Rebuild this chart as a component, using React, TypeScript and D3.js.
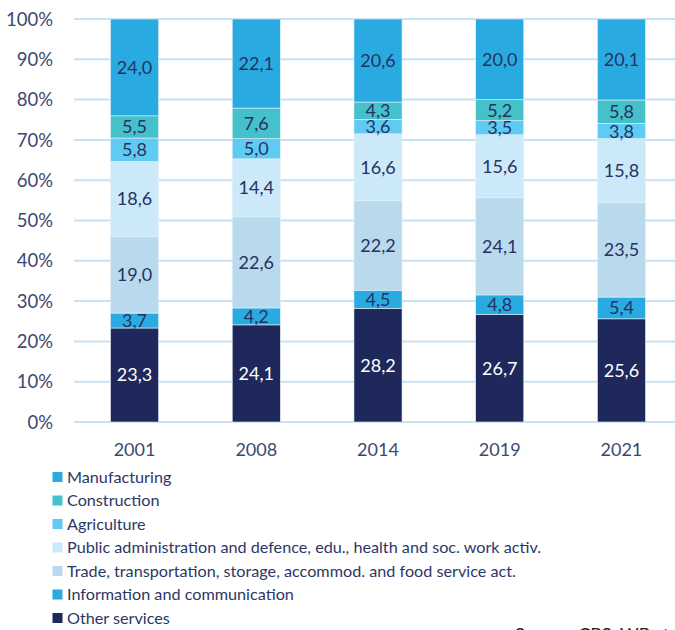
import { useMemo } from 'react'
import * as d3 from 'd3'

const years = ['2001', '2008', '2014', '2019', '2021']

// stacked bottom -> top
const sectors = [
  'Other services',
  'Information and communication',
  'Trade, transportation, storage, accommod. and food service act.',
  'Public administration and defence, edu., health and soc. work activ.',
  'Agriculture',
  'Construction',
  'Manufacturing',
]

const otherServices = [23.3, 24.1, 28.2, 26.7, 25.6]
const infoComm = [3.7, 4.2, 4.5, 4.8, 5.4]
const trade = [19.0, 22.6, 22.2, 24.1, 23.5]
const publicAdmin = [18.6, 14.4, 16.6, 15.6, 15.8]
const agriculture = [5.8, 5.0, 3.6, 3.5, 3.8]
const construction = [5.5, 7.6, 4.3, 5.2, 5.8]
const manufacturing = [24.0, 22.1, 20.6, 20.0, 20.1]

const seriesValues = [otherServices, infoComm, trade, publicAdmin, agriculture, construction, manufacturing]

const colors = ['#1e285a', '#29abe2', '#b9d9ec', '#cbe9f9', '#5fcbf3', '#45c1cb', '#29abe2']

const legendOrder = [6, 5, 4, 3, 2, 1, 0]

const yTicks = [0, 10, 20, 30, 40, 50, 60, 70, 80, 90, 100]

const font = 'Lato, "Open Sans", sans-serif'

export default function App() {
  const width = 675
  const height = 630
  const margin = { top: 19, left: 74, right: -7, bottom: 208 }

  const rows = useMemo(
    () =>
      years.map((year, i) => {
        const row: Record<string, number | string> = { year }
        sectors.forEach((s, j) => (row[s] = seriesValues[j][i]))
        return row
      }),
    []
  )

  const stacked = d3.stack<Record<string, number | string>>().keys(sectors).offset(d3.stackOffsetExpand)(rows as any)

  const x = d3
    .scaleBand()
    .domain(years)
    .range([margin.left, width - margin.right])
    .paddingInner(0.605)
    .paddingOuter(0.3)

  const y = d3
    .scaleLinear()
    .domain([0, 1])
    .range([height - margin.bottom, margin.top])

  return (
    <svg
      width={width}
      height={height}
      style={{ position: 'absolute', left: 0, top: 0, background: '#fff', fontFamily: font }}
    >
      {yTicks.map(t => (
        <g key={t}>
          <line
            x1={margin.left}
            x2={width}
            y1={y(t / 100)}
            y2={y(t / 100)}
            stroke="#c9e1f3"
            strokeWidth={2}
          />
          <text
            x={53}
            y={y(t / 100)}
            dy="0.36em"
            textAnchor="end"
            fontSize={18.5}
            fill="#3d4870"
          >
            {t}%
          </text>
        </g>
      ))}

      {stacked.map((layer, j) => (
        <g key={layer.key}>
          {layer.map((d, i) => {
            const x0 = x(years[i])!
            const y0 = y(d[1])
            const h = y(d[0]) - y(d[1])
            return (
              <g key={i}>
                <rect x={x0} y={y0} width={x.bandwidth()} height={h} fill={colors[j]} stroke="#e4f1fa" strokeWidth={0.6} />
                <text
                  x={x0 + x.bandwidth() / 2}
                  y={y0 + h / 2}
                  dy="0.36em"
                  textAnchor="middle"
                  fontSize={18}
                  fill={j === 0 ? '#ffffff' : '#26325f'}
                >
                  {seriesValues[j][i].toFixed(1).replace('.', ',')}
                </text>
              </g>
            )
          })}
        </g>
      ))}

      {years.map(yr => (
        <text
          key={yr}
          x={x(yr)! + x.bandwidth() / 2}
          y={450}
          dy="0.36em"
          textAnchor="middle"
          fontSize={18}
          fill="#3d4870"
        >
          {yr}
        </text>
      ))}

      {legendOrder.map((j, k) => {
        const cy = 477 + k * 23.5
        return (
          <g key={sectors[j]}>
            <rect x={52.5} y={cy - 5} width={10} height={10} fill={colors[j]} />
            <text x={67} y={cy} dy="0.36em" fontSize={16.2} fill="#2c3765">
              {sectors[j]}
            </text>
          </g>
        )
      })}

      <text x={515} y={641} fontSize={18} fill="#222">
        Source: CBS, WB staff calculations
      </text>
    </svg>
  )
}
